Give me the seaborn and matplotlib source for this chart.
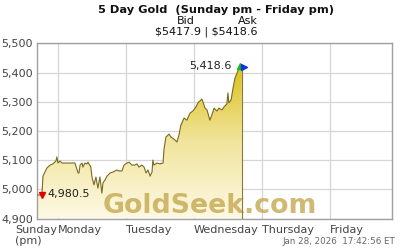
import numpy as np
import pandas as pd
import matplotlib
matplotlib.use("Agg")
import matplotlib.pyplot as plt
from matplotlib.colors import LinearSegmentedColormap
import seaborn as sns

# hours since Sunday 00:00 (ET)
hours = [16.6, 18.35, 18.7, 20.1, 21.2, 22.2, 23.3, 23.6, 24.0, 24.7, 25.4, 27.5, 30.0,
         31.1, 31.4, 31.8, 32.5, 32.8, 33.5, 34.2, 34.6, 35.6, 36.0, 36.7, 37.4, 38.1,
         38.8, 39.5, 39.9, 40.6, 41.3, 42.4, 43.4, 44.8, 45.5, 46.6, 47.3, 48.4, 49.1,
         50.1, 51.2, 51.9, 52.6, 53.6, 54.4, 55.1, 55.8, 56.5, 57.2, 57.5, 57.9, 58.9,
         60.0, 61.1, 61.4, 62.1, 63.2, 63.9, 65.3, 66.0, 66.7, 67.4, 68.5, 69.5, 70.6,
         71.6, 72.7, 73.4, 74.8, 75.2, 75.9, 76.6, 77.6, 78.3, 79.1, 80.1, 80.8, 81.9,
         82.6, 83.6, 84.0, 84.3, 85.1, 85.8, 86.5, 87.2, 87.9, 88.9]
prices = [4980.5, 4980.5, 5045, 5073, 5083, 5087, 5097, 5111, 5090, 5097, 5090, 5090, 5090,
          5056, 5056, 5083, 5090, 5076, 5090, 5087, 5093, 5076, 5042, 5015, 5042, 5004,
          5042, 4987, 5022, 5032, 5045, 5056, 5059, 5066, 5063, 5063, 5083, 5090, 5093,
          5083, 5083, 5087, 5076, 5083, 5076, 5056, 5066, 5045, 5059, 5100, 5083, 5090,
          5087, 5090, 5135, 5179, 5189, 5179, 5169, 5162, 5186, 5220, 5244, 5237, 5261,
          5268, 5282, 5296, 5309, 5299, 5278, 5272, 5237, 5254, 5278, 5268, 5278, 5272,
          5282, 5292, 5330, 5296, 5306, 5347, 5381, 5398, 5415, 5418.6]

day_ticks = [24, 48, 72, 96, 120]
day_labels = ["Monday", "Tuesday", "Wednesday", "Thursday", "Friday"]
start_label = "Sunday\n(pm)"
y_ticks = [4900, 5000, 5100, 5200, 5300, 5400, 5500]
x_min, x_max = 16.6, 141.9
y_min, y_max = 4900, 5500

title = "5 Day Gold  (Sunday pm - Friday pm)"
bid_label, ask_label = "Bid", "Ask"
bid_ask = r"\$5417.9 | \$5418.6"
timestamp = "Jan 28, 2026  17:42:56 ET"
watermark = "GoldSeek.com"

df = pd.DataFrame({"hour": hours, "price": prices})

sns.set_style("white")
plt.rcParams["font.family"] = ["DejaVu Sans"]

fig = plt.figure(figsize=(4, 2.5), dpi=100)
ax = fig.add_axes([37/400, 1-218.5/250, (392-37)/400, (218.5-43.3)/250])

ax.set_xlim(x_min, x_max)
ax.set_ylim(y_min, y_max)

ax.set_yticks(y_ticks)
ax.set_yticklabels([f"{v:,}" for v in y_ticks])
ax.set_xticks(day_ticks)
ax.set_xticklabels(day_labels)
ax.grid(True, color="#d6d6d6", linewidth=0.9)
ax.set_axisbelow(True)

# gradient fill under line
poly = ax.fill_between(df["hour"], df["price"], y_min, color="none", linewidth=0)
cmap = LinearSegmentedColormap.from_list("gold", ["#fdf9e4", "#f1e49c", "#dcc018"])
grad = np.linspace(0, 1, 256).reshape(-1, 1)
im = ax.imshow(grad, cmap=cmap, origin="lower", aspect="auto",
               extent=[x_min, x_max, y_min, 5425], zorder=2)
im.set_clip_path(poly.get_paths()[0], transform=ax.transData)

# watermark
ax.text(0.487, 0.072, watermark, transform=ax.transAxes, fontsize=19.3, fontweight="bold",
        color="#c4a850", alpha=0.8, ha="center", va="center", zorder=3)

sns.lineplot(data=df, x="hour", y="price", ax=ax, color="#7a6a20", linewidth=0.8, zorder=4)
ax.vlines(hours[-1], y_min, prices[-1], color="#8a7a30", linewidth=0.8, zorder=4)
ax.set_xlabel("")
ax.set_ylabel("")

# end markers
ax.plot([hours[1]], [prices[1]], marker="v", color="#e00000", markersize=4, zorder=5)
ax.plot([hours[-1] - 0.8], [prices[-1] + 3], marker="^", color="#10c010", markersize=4, zorder=5)
ax.plot([hours[-1] + 0.6], [prices[-1]], marker=">", color="#1030e0", markersize=4, zorder=5)
ax.text(hours[1] + 2.0, prices[1] + 2, f"{prices[0]:,.1f}", fontsize=8, color="#222",
        ha="left", va="center", zorder=5)
ax.text(hours[-1] - 3.6, prices[-1] + 4, f"{prices[-1]:,.1f}", fontsize=8, color="#222",
        ha="right", va="center", zorder=5)

for s in ax.spines.values():
    s.set_color("#a0a0a0")
    s.set_linewidth(1.0)
    s.set_visible(True)

ax.tick_params(axis="both", length=0, labelsize=8, labelcolor="#444")
ax.tick_params(axis="y", pad=3)
ax.tick_params(axis="x", pad=4.5)
for lbl in ax.get_xticklabels():
    lbl.set_ha("left")

# start-of-week label, right-aligned against the Monday gridline
ax.annotate(start_label, xy=(23.7, 0), xycoords=("data", "axes fraction"),
            xytext=(0, -4.5), textcoords="offset points", ha="right", va="top",
            multialignment="left", fontsize=8, color="#444")

fig.text(216/400, 1-10/250, title, fontsize=8.2, fontweight="bold", ha="center", va="center", color="#111")
fig.text(186/400, 1-21.5/250, bid_label, fontsize=8, ha="center", va="center", color="#111")
fig.text(248/400, 1-21.5/250, ask_label, fontsize=8, ha="center", va="center", color="#111")
fig.text(206/400, 1-32/250, bid_ask, fontsize=8, ha="center", va="center", color="#111")
fig.text(395/400, 1-242/250, timestamp, fontsize=6.3, ha="right", va="center", color="#666")

fig.savefig("out.png", dpi=100)
